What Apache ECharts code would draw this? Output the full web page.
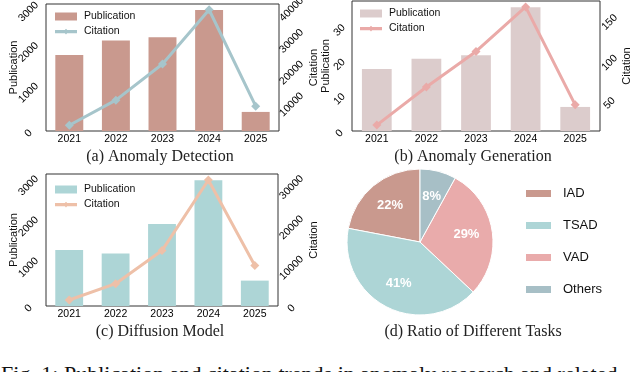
<!DOCTYPE html>
<html lang="en">
<head>
<meta charset="UTF-8">
<title>Publication and citation trends</title>
<style>
  html, body { margin: 0; padding: 0; background: #fff; overflow: hidden; }
  body { width: 640px; height: 372px; position: relative; }
  .panel { position: absolute; }
  #caption {
    position: absolute; left: 1px; top: 363px; white-space: nowrap;
    font: 22px "Liberation Serif", "Times New Roman", serif; line-height: 22px; color: #111;
  }
</style>
</head>
<body>
<div id="chartA" class="panel" style="left:0;top:0;width:320px;height:166px;"></div>
<div id="chartB" class="panel" style="left:320px;top:0;width:320px;height:166px;"></div>
<div id="chartC" class="panel" style="left:0;top:166px;width:320px;height:190px;"></div>
<div id="chartD" class="panel" style="left:320px;top:166px;width:320px;height:190px;"></div>
<div id="caption">Fig. 1: Publication and citation trends in anomaly research and related</div>
<script src="https://cdn.jsdelivr.net/npm/echarts@6/dist/echarts.min.js"></script>
<script>
  const years = ['2021', '2022', '2023', '2024', '2025']

  // (a) anomaly detection
  const pubA = [1870, 2230, 2310, 2980, 470]
  const citeA = [2700, 10600, 22000, 39100, 8700]
  const pubTicksA = [0, 1000, 2000, 3000]
  const citeTicksA = [10000, 20000, 30000, 40000]

  // (b) anomaly generation
  const pubB = [18, 21, 22, 36, 7]
  const citeB = [20, 67, 111, 166, 45]
  const pubTicksB = [0, 10, 20, 30]
  const citeTicksB = [50, 100, 150]

  // (c) diffusion model
  const pubC = [1370, 1280, 2000, 3070, 620]
  const citeC = [1450, 5500, 13700, 31200, 10000]
  const pubTicksC = [0, 1000, 2000, 3000]
  const citeTicksC = [0, 10000, 20000, 30000]

  // (d) task ratio
  const tasks = ['IAD', 'TSAD', 'VAD', 'Others']
  const taskShare = [22, 41, 29, 8]

  const sans = '"Liberation Sans", Arial, sans-serif'
  const serif = '"Liberation Serif", "Times New Roman", serif'

  // legend icon for the line: thin bar with a small diamond, inside a 22x8 box
  const lineIcon = 'path://M0,0h0.05v0.05h-0.05zM22,8h-0.05v-0.05h0.05zM0,2.4h22v3.4h-22zM11,1.3l2.6,2.8l-2.6,2.8l-2.6,-2.8z'

  const onlyTicks = (ticks) => (v) => ticks.indexOf(Math.round(v * 1000) / 1000) >= 0 ? String(Math.round(v)) : ''

  function barLine(id, p) {
    const chart = echarts.init(document.getElementById(id))
    const pubMax = Math.max(...p.pub) * 1.05
    const lo = Math.min(...p.cite)
    const hi = Math.max(...p.cite)
    const pad = (hi - lo) * 0.05
    const tickLabel = {fontSize: 10.5, fontFamily: sans, color: '#000'}
    const axisName = {fontSize: 11, fontFamily: sans, color: '#111'}
    chart.setOption({
      animation: false,
      title: {
        text: p.title, left: p.titleX, top: p.titleY, textAlign: 'center', padding: 0,
        textStyle: {fontFamily: serif, fontSize: 16, fontWeight: 'normal', color: '#222'}
      },
      legend: {
        orient: 'vertical', left: p.legend[0], top: p.legend[1], padding: 0,
        itemWidth: 22, itemHeight: 8, itemGap: 4,
        textStyle: {fontSize: 10.5, fontFamily: sans, color: '#111', padding: [0, 0, 0, 2]},
        data: [{name: 'Publication', icon: 'rect'}, {name: 'Citation', icon: lineIcon}]
      },
      grid: {
        left: p.grid[0], top: p.grid[1], width: p.grid[2], height: p.grid[3],
        outerBoundsMode: 'none', containLabel: false,
        show: true, borderColor: '#333', borderWidth: 1
      },
      xAxis: {
        type: 'category', data: years,
        axisLine: {show: false}, axisTick: {show: false},
        axisLabel: Object.assign({margin: 3}, tickLabel)
      },
      yAxis: [
        {
          type: 'value', min: 0, max: pubMax, interval: p.pubStep,
          name: 'Publication', nameLocation: 'middle', nameRotate: 90, nameGap: p.nameGap[0],
          nameMoveOverlap: false, nameTextStyle: axisName,
          axisLine: {show: false}, axisTick: {show: false}, splitLine: {show: false},
          axisLabel: Object.assign({
            rotate: 45, align: 'center', margin: p.labelGap[0], padding: [7, 7, 0, 0],
            formatter: onlyTicks(p.pubTicks)
          }, tickLabel)
        },
        {
          type: 'value', position: 'right', min: lo - pad, max: hi + pad, splitNumber: 4,
          name: 'Citation', nameLocation: 'middle', nameRotate: 90, nameGap: p.nameGap[1],
          nameMoveOverlap: false, nameTextStyle: axisName,
          axisLine: {show: false}, axisTick: {show: false}, splitLine: {show: false},
          axisLabel: Object.assign({
            rotate: 45, align: 'center', margin: p.labelGap[1], padding: [7, 7, 0, 0],
            formatter: onlyTicks(p.citeTicks)
          }, tickLabel)
        }
      ],
      series: [
        {
          name: 'Publication', type: 'bar', data: p.pub, barWidth: '60%',
          itemStyle: {color: p.barColor}
        },
        {
          name: 'Citation', type: 'line', yAxisIndex: 1, data: p.cite, z: 3,
          symbol: 'diamond', symbolSize: 9,
          lineStyle: {width: 3, color: p.lineColor}, itemStyle: {color: p.lineColor}
        }
      ]
    })
  }

  barLine('chartA', {
    pub: pubA, cite: citeA, pubTicks: pubTicksA, citeTicks: citeTicksA, pubStep: 1000,
    grid: [46, 4, 233, 127], legend: [55, 11], nameGap: [27, 29], labelGap: [15, 15],
    title: '(a) Anomaly Detection', titleX: 160, titleY: 149,
    barColor: '#c9998e', lineColor: '#a6c5cb'
  })
  barLine('chartB', {
    pub: pubB, cite: citeB, pubTicks: pubTicksB, citeTicks: citeTicksB, pubStep: 10,
    grid: [32, 1, 248, 130], legend: [40, 8], nameGap: [21, 21], labelGap: [10, 12],
    title: '(b) Anomaly Generation', titleX: 153, titleY: 149,
    barColor: '#dccccc', lineColor: '#eaaaa8'
  })
  barLine('chartC', {
    pub: pubC, cite: citeC, pubTicks: pubTicksC, citeTicks: citeTicksC, pubStep: 1000,
    grid: [46, 8, 232, 132], legend: [55, 18], nameGap: [27, 30], labelGap: [15, 16],
    title: '(c) Diffusion Model', titleX: 160, titleY: 158,
    barColor: '#add5d6', lineColor: '#eec0a8'
  })

  const pie = echarts.init(document.getElementById('chartD'))
  const slices = tasks.map((t, i) => ({name: t, value: taskShare[i]}))
  pie.setOption({
    animation: false,
    color: ['#c9998e', '#add5d6', '#e9abab', '#a7bfc6'],
    title: {
      text: '(d) Ratio of Different Tasks', left: 153, top: 158, textAlign: 'center', padding: 0,
      textStyle: {fontFamily: serif, fontSize: 16, fontWeight: 'normal', color: '#222'}
    },
    legend: {
      orient: 'vertical', left: 204, top: 21, padding: 0, itemWidth: 27, itemHeight: 9, itemGap: 19,
      icon: 'rect', textStyle: {fontSize: 13, fontFamily: sans, color: '#111', padding: [0, 0, 0, 6]},
      data: tasks
    },
    series: [
      {
        type: 'pie', center: [100, 76], radius: 73, startAngle: 90, clockwise: false,
        data: slices, label: {show: false}, labelLine: {show: false},
        itemStyle: {borderColor: '#fff', borderWidth: 1}
      },
      {
        // label ring only, so the percentages sit at ~0.6 of the radius
        type: 'pie', center: [100, 76], radius: [15, 73], startAngle: 90, clockwise: false,
        silent: true, data: slices, itemStyle: {color: 'transparent'},
        label: {position: 'inside', formatter: '{c}%', color: '#fff', fontWeight: 'bold', fontSize: 13, fontFamily: sans}
      }
    ]
  })
</script>
</body>
</html>
